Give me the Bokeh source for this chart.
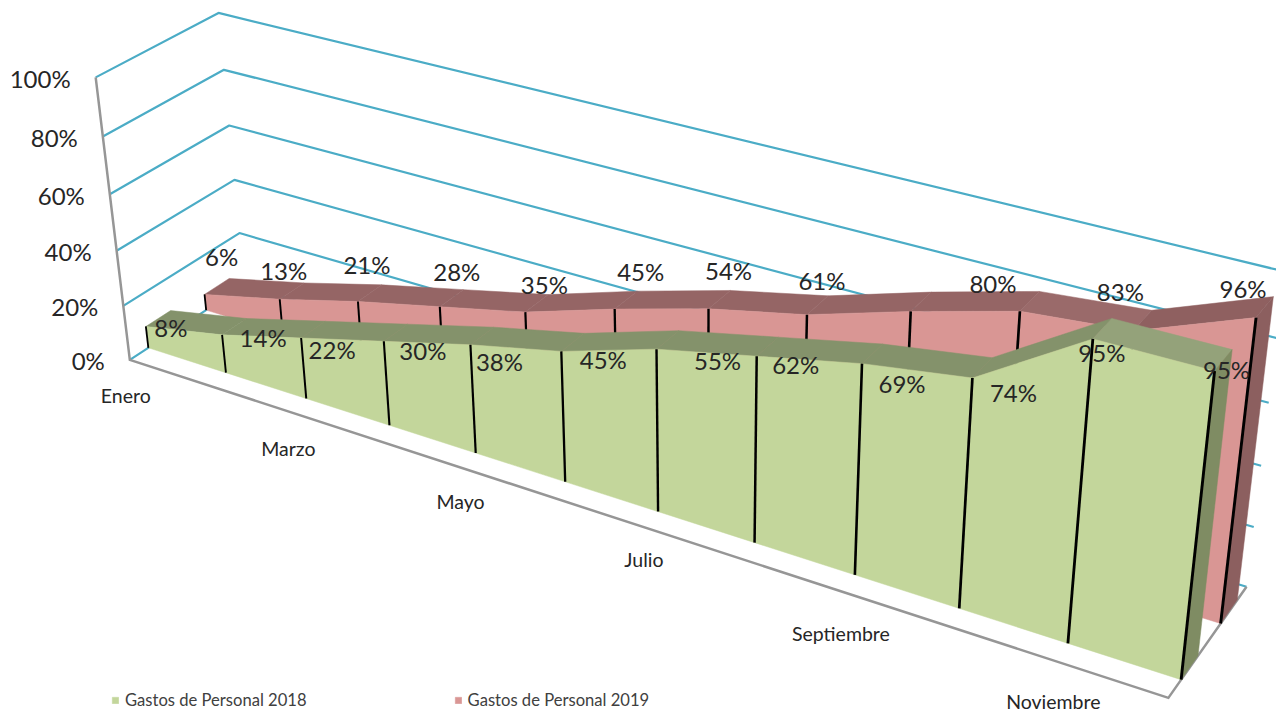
import numpy as np
from bokeh.plotting import figure
from bokeh.models import Range1d, Legend, LegendItem
from bokeh.core.properties import value
from bokeh.embed import file_html
from bokeh.resources import INLINE

months = ["Enero", "Febrero", "Marzo", "Abril", "Mayo", "Junio", "Julio", "Agosto",
          "Septiembre", "Octubre", "Noviembre", "Diciembre"]
gastos_2018 = [8, 14, 22, 30, 38, 45, 55, 62, 69, 74, 95, 95]
gastos_2019 = [6, 13, 21, 28, 35, 45, 54, 61, 71, 80, 83, 96]
hidden_2019 = [8]
y_ticks = [0, 20, 40, 60, 80, 100]
name_2018 = "Gastos de Personal 2018"
name_2019 = "Gastos de Personal 2019"

# ---- camera: a perspective projection of the 3D box (x: month, y: percent, z: depth)
box = [((0, 0, 0), (128, 360)), ((0, .2, 0), (123, 305)), ((0, .4, 0), (117, 250)), ((0, .6, 0), (110, 194)),
       ((0, .8, 0), (103, 136)), ((0, 1, 0), (94, 77)),
       ((0, 0, 1), (244, 285)), ((0, .2, 1), (239, 232)), ((0, .4, 1), (234, 179)), ((0, .6, 1), (229, 125)),
       ((0, .8, 1), (223, 69)), ((0, 1, 1), (218, 13)),
       ((1, 0, 0), (1168, 697)),
       ((1, 0, 1), (1246, 585)), ((1, .2, 1), (1253, 527)), ((1, .4, 1), (1261, 467)), ((1, .6, 1), (1268, 403)),
       ((1, .8, 1), (1276, 337)), ((1, 1, 1), (1284, 270))]
A = []
for (X, Y, Z), (u, v) in box:
    A.append([X, Y, Z, 1, 0, 0, 0, 0, -u * X, -u * Y, -u * Z, -u])
    A.append([0, 0, 0, 0, X, Y, Z, 1, -v * X, -v * Y, -v * Z, -v])
P = np.linalg.svd(np.array(A, float))[2][-1].reshape(3, 4)


def proj(i, pct, z):
    h = P @ np.array([i / 11.0, pct / 100.0, z, 1.0])
    return h[0] / h[2], h[1] / h[2]


def poly(pts):
    xy = [proj(*q) for q in pts]
    return [a for a, _ in xy], [b for _, b in xy]


p = figure(width=1276, height=715, output_backend="svg", toolbar_location=None,
           x_range=Range1d(0, 1276), y_range=Range1d(715, 0),
           x_axis_type=None, y_axis_type=None, min_border=0, outline_line_color=None,
           background_fill_color="white", border_fill_color="white")
p.grid.visible = False

TEAL, GRAY, INK = "#4BACC6", "#969696", "#262626"
FONT = value("Lato")

# gridlines
for t in y_ticks:
    xs, ys = poly([(0, t, 0), (0, t, 1), (11, t, 1)])
    p.line(xs, ys, line_color=TEAL, line_width=2.2)
# axis frame
xs, ys = poly([(0, 100, 0), (0, 0, 0), (11, 0, 0), (11, 0, 1)])
p.line(xs, ys, line_color=GRAY, line_width=2.5, line_join="miter")


def area(vals, z1, z2, face, ribbon, ribbon_over, cap):
    # top ribbon
    for i in range(11):
        xs, ys = poly([(i, vals[i], z1), (i, vals[i], z2), (i + 1, vals[i + 1], z2), (i + 1, vals[i + 1], z1)])
        c = ribbon_over.get(i, ribbon)
        p.patch(xs, ys, fill_color=c, line_color=c, line_width=0.5)
    # end cap
    xs, ys = poly([(11, vals[11], z1), (11, vals[11], z2), (11, 0, z2), (11, 0, z1)])
    p.patch(xs, ys, fill_color=cap, line_color=cap, line_width=0.5)
    # front face
    pts = [(i, vals[i], z1) for i in range(12)] + [(11, 0, z1), (0, 0, z1)]
    xs, ys = poly(pts)
    r = p.patch(xs, ys, fill_color=face, line_color=face, line_width=0.5)
    # drop lines, a little heavier towards the viewer's right
    for i in range(12):
        xs, ys = poly([(i, vals[i], z1), (i, 0, z1)])
        p.line(xs, ys, line_color="black", line_width=1.8 + 0.1 * i)
    return r


Z_R = (0.655, 0.875)
Z_G = (0.155, 0.365)
r19 = area(gastos_2019, Z_R[0], Z_R[1], "#D99694", "#956565", {9: "#9A6A6A", 10: "#8F6060"}, "#8C5F5F")
r18 = area(gastos_2018, Z_G[0], Z_G[1], "#C3D69B", "#84926B", {10: "#94A27A"}, "#7F8C63")

# y tick labels
tx, ty, tt = [], [], []
for t in y_ticks:
    a, b = proj(0, t, 0)
    tx.append(a - 25); ty.append(b + 1); tt.append(f"{t}%")
p.text(tx, ty, text=tt, text_font=FONT, text_font_size="24px", text_color=INK,
       text_align="right", text_baseline="middle")

# category labels (every second month)
cat_off = [(-4, 36), (0, 37), (2, 35), (2, 33), (1, 43), (-1, 41)]
cx, cy, ct = [], [], []
for k, i in enumerate(range(0, 12, 2)):
    a, b = proj(i, 0, 0)
    cx.append(a + cat_off[k][0]); cy.append(b + cat_off[k][1]); ct.append(months[i])
p.text(cx, cy, text=ct, text_font=FONT, text_font_size="19.5px", text_color=INK,
       text_align="center", text_baseline="middle")

# data labels
off_18 = [(25, 1), (41, 3), (31, 12), (39, 9), (29, 17), (42, 8), (61, 11), (39, 8), (40, 20), (41, 15), (9, 14), (12, -2)]
off_19 = [(17, -38), (4, -29), (9, -37), (17, -35), (19, -28), (26, -38), (20, -38), (15, -34), (0, 0), (-27, -28), (-13, -39), (-13, -29)]
lx, ly, lt = [], [], []
for vals, z, off, hide in ((gastos_2019, Z_R[0], off_19, hidden_2019), (gastos_2018, Z_G[0], off_18, [])):
    for i, v in enumerate(vals):
        if i in hide:
            continue
        a, b = proj(i, v, z)
        lx.append(a + off[i][0]); ly.append(b + off[i][1]); lt.append(f"{v}%")
p.text(lx, ly, text=lt, text_font=FONT, text_font_size="24px", text_color=INK,
       text_align="center", text_baseline="middle")

legend = Legend(items=[LegendItem(label=name_2018, renderers=[r18]), LegendItem(label=name_2019, renderers=[r19])],
                orientation="horizontal", location=(111, 5), glyph_width=8, glyph_height=8,
                label_standoff=6, spacing=147, padding=0, margin=0, border_line_color=None,
                background_fill_alpha=0, label_text_font="Lato", label_text_font_size="16.6px",
                label_text_color="#404040", label_height=16)
p.add_layout(legend)

open("out.html", "w").write(file_html(p, INLINE))
